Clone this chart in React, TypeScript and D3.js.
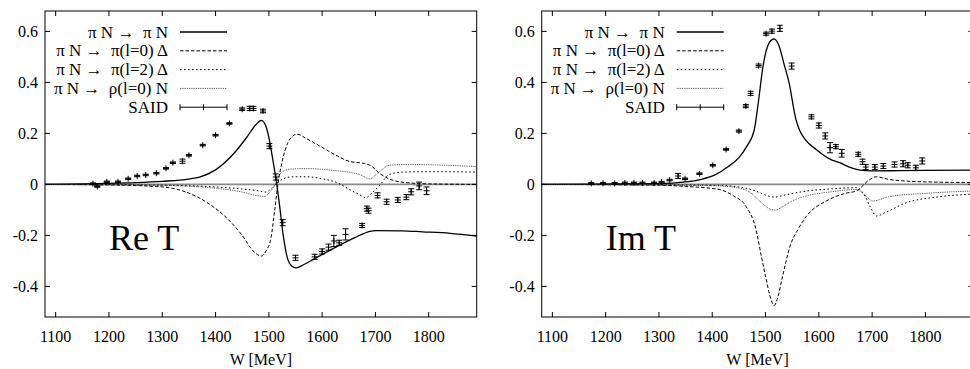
import React from 'react';
import * as d3 from 'd3';

// axes
const wTicks = [1100, 1200, 1300, 1400, 1500, 1600, 1700, 1800];
const yTicks = [-0.4, -0.2, 0, 0.2, 0.4, 0.6];
const yTickLabels = ['-0.4', '-0.2', '0', '0.2', '0.4', '0.6'];
const legendLabels = ['π N →  π N', 'π N →  π(l=0) Δ', 'π N →  π(l=2) Δ', 'π N →  ρ(l=0) N', 'SAID'];

// Re T curves  [W, value]
const rePiN = [
  [1080, 0], [1150, 0.002], [1200, 0.004], [1250, 0.007], [1300, 0.012], [1350, 0.021], [1370, 0.029],
  [1400, 0.057], [1433, 0.118], [1458, 0.183], [1476, 0.235], [1486, 0.251], [1495, 0.225], [1501, 0.175],
  [1508, 0.09], [1514, 0.013], [1520, -0.08], [1527, -0.2], [1535, -0.29], [1543, -0.32], [1551, -0.327],
  [1565, -0.315], [1586, -0.291], [1632, -0.239], [1660, -0.21], [1692, -0.183], [1700, -0.181],
  [1750, -0.182], [1788, -0.186], [1840, -0.192], [1890, -0.203],
];
const rePiDelta0 = [
  [1080, 0], [1200, -0.002], [1300, -0.01], [1339, -0.026], [1389, -0.078], [1420, -0.13], [1450, -0.2],
  [1470, -0.26], [1486, -0.281], [1495, -0.26], [1504, -0.21], [1511, -0.1], [1517, 0.0], [1525, 0.09],
  [1535, 0.16], [1545, 0.19], [1553, 0.197], [1570, 0.18], [1600, 0.145], [1630, 0.11], [1651, 0.09],
  [1679, 0.082], [1690, 0.075], [1710, 0.04], [1738, 0.013], [1776, 0.004], [1800, 0.002], [1890, 0.0],
];
const rePiDelta2 = [
  [1080, 0], [1300, -0.003], [1400, -0.01], [1450, -0.018], [1480, -0.025], [1495, -0.03], [1505, -0.015],
  [1515, 0.005], [1525, 0.02], [1545, 0.03], [1570, 0.03], [1600, 0.022], [1630, 0.005], [1651, -0.02],
  [1670, -0.04], [1682, -0.052], [1695, -0.03], [1707, -0.006], [1726, 0.039], [1750, 0.048],
  [1800, 0.05], [1890, 0.048],
];
const reRhoN = [
  [1080, 0], [1300, -0.004], [1400, -0.015], [1450, -0.03], [1480, -0.045], [1492, -0.047], [1502, -0.03],
  [1512, 0.0], [1523, 0.045], [1540, 0.06], [1570, 0.062], [1620, 0.055], [1670, 0.039], [1689, 0.022],
  [1705, 0.045], [1726, 0.075], [1760, 0.078], [1800, 0.077], [1890, 0.07],
];

// Im T curves
const imPiN = [
  [1080, 0], [1300, 0.003], [1350, 0.01], [1380, 0.02], [1407, 0.039], [1430, 0.07], [1450, 0.105],
  [1465, 0.15], [1479, 0.216], [1487, 0.33], [1495, 0.46], [1507, 0.556], [1516, 0.571], [1525, 0.545],
  [1535, 0.47], [1544, 0.4], [1557, 0.255], [1563, 0.216], [1575, 0.175], [1595, 0.137], [1620, 0.1],
  [1639, 0.085], [1660, 0.066], [1677, 0.056], [1700, 0.053], [1750, 0.054], [1800, 0.055], [1890, 0.056],
];
const imPiDelta0 = [
  [1080, 0], [1300, -0.003], [1350, -0.008], [1413, -0.02], [1440, -0.045], [1463, -0.085], [1482, -0.176],
  [1492, -0.28], [1501, -0.37], [1510, -0.45], [1516, -0.475], [1522, -0.45], [1532, -0.36], [1546, -0.242],
  [1561, -0.176], [1577, -0.124], [1614, -0.065], [1650, -0.035], [1670, -0.026], [1680, -0.01],
  [1690, 0.01], [1708, 0.03], [1730, 0.02], [1764, 0.013], [1800, 0.01], [1890, 0.007],
];
const imPiDelta2 = [
  [1080, 0], [1400, -0.003], [1450, -0.01], [1480, -0.025], [1500, -0.042], [1516, -0.05], [1540, -0.04],
  [1577, -0.026], [1620, -0.018], [1670, -0.013], [1685, -0.04], [1697, -0.09], [1708, -0.124],
  [1725, -0.11], [1764, -0.072], [1820, -0.05], [1890, -0.038],
];
const imRhoN = [
  [1080, 0], [1400, -0.005], [1451, -0.015], [1470, -0.03], [1489, -0.065], [1505, -0.093], [1518, -0.101],
  [1530, -0.09], [1550, -0.065], [1577, -0.045], [1620, -0.03], [1670, -0.02], [1688, -0.045],
  [1701, -0.065], [1732, -0.048], [1800, -0.035], [1890, -0.026],
];

// SAID points [W, value, error]
const reSaid = [
  [1170, 0.003, 0.003], [1178, -0.008, 0.003], [1196, 0.01, 0.003], [1217, 0.01, 0.003], [1236, 0.022, 0.003],
  [1253, 0.033, 0.003], [1269, 0.037, 0.003], [1289, 0.044, 0.003], [1307, 0.063, 0.003], [1320, 0.085, 0.003],
  [1338, 0.091, 0.008], [1350, 0.114, 0.003], [1376, 0.154, 0.003], [1400, 0.193, 0.003], [1426, 0.239, 0.003],
  [1450, 0.295, 0.005], [1464, 0.298, 0.008], [1471, 0.298, 0.008], [1489, 0.288, 0.007], [1501, 0.15, 0.01],
  [1513, 0.029, 0.012], [1526, -0.15, 0.012], [1550, -0.288, 0.01], [1586, -0.284, 0.01], [1600, -0.263, 0.01],
  [1612, -0.246, 0.012], [1622, -0.222, 0.022], [1632, -0.229, 0.01], [1644, -0.196, 0.022], [1675, -0.161, 0.008],
  [1684, -0.095, 0.01], [1687, -0.103, 0.01], [1704, -0.043, 0.01], [1721, -0.068, 0.01], [1742, -0.061, 0.01],
  [1758, -0.05, 0.01], [1767, -0.029, 0.012], [1782, -0.006, 0.015], [1796, -0.025, 0.015],
];
const imSaid = [
  [1173, 0.004, 0.003], [1195, 0.004, 0.003], [1217, 0.004, 0.003], [1236, 0.006, 0.003], [1253, 0.006, 0.003],
  [1269, 0.006, 0.003], [1291, 0.006, 0.003], [1305, 0.009, 0.003], [1320, 0.017, 0.003], [1336, 0.033, 0.01],
  [1349, 0.022, 0.003], [1376, 0.042, 0.003], [1401, 0.075, 0.003], [1426, 0.137, 0.003], [1450, 0.209, 0.004],
  [1463, 0.307, 0.006], [1472, 0.357, 0.008], [1487, 0.466, 0.006], [1501, 0.591, 0.006], [1512, 0.601, 0.008],
  [1527, 0.612, 0.012], [1549, 0.464, 0.012], [1586, 0.265, 0.008], [1600, 0.231, 0.01], [1612, 0.19, 0.012],
  [1621, 0.144, 0.02], [1632, 0.148, 0.008], [1643, 0.122, 0.015], [1674, 0.118, 0.008], [1682, 0.089, 0.01],
  [1688, 0.068, 0.01], [1705, 0.068, 0.01], [1721, 0.072, 0.01], [1742, 0.078, 0.01], [1758, 0.081, 0.012],
  [1767, 0.075, 0.01], [1782, 0.065, 0.01], [1794, 0.092, 0.012],
];

const FONT = "'Liberation Serif', Tinos, 'Times New Roman', Times, 'DejaVu Serif', serif";
const dashes = [null, '3.5,2', '1.6,2.4', '0.8,1'];

function Panel({ left, label, curves, said, id }) {
  const top = 11, w = 431.7, h = 306;
  const x = d3.scaleLinear().domain([1080, 1890]).range([left, left + w]);
  const y = d3.scaleLinear().domain([-0.52, 0.68]).range([top + h, top]);
  const line = d3.line().x(d => x(d[0])).y(d => y(d[1])).curve(d3.curveMonotoneX);
  const cap = 3;
  const txt = { fontFamily: FONT };

  return (
    <g>
      <clipPath id={id}>
        <rect x={left} y={top} width={w} height={h} />
      </clipPath>
      {/* zero axis */}
      <line x1={left} x2={left + w} y1={y(0)} y2={y(0)} stroke="#8a8a8a" strokeWidth={1.6} />
      <g clipPath={`url(#${id})`}>
        {curves.map((c, i) => (
          <path key={i} d={line(c)} fill="none" stroke={i === 3 ? '#333' : '#000'}
            strokeWidth={i === 0 ? 1.3 : 1} strokeDasharray={dashes[i] || undefined} />
        ))}
      </g>
      {/* SAID points */}
      <g stroke="#000" strokeWidth={1}>
        {said.map((d, i) => {
          const px = x(d[0]), py = y(d[1]), y1 = y(d[1] - d[2]), y2 = y(d[1] + d[2]);
          return (
            <g key={i}>
              <line x1={px} x2={px} y1={y1} y2={y2} />
              <line x1={px - cap} x2={px + cap} y1={y1} y2={y1} />
              <line x1={px - cap} x2={px + cap} y1={y2} y2={y2} />
              <line x1={px - cap} x2={px + cap} y1={py} y2={py} />
              <line x1={px} x2={px} y1={py - cap} y2={py + cap} />
            </g>
          );
        })}
      </g>
      {/* frame */}
      <rect x={left} y={top} width={w} height={h} fill="none" stroke="#000" strokeWidth={1} />
      {/* ticks */}
      <g stroke="#000" strokeWidth={1}>
        {wTicks.map(t => (
          <g key={t}>
            <line x1={x(t)} x2={x(t)} y1={top + h} y2={top + h - 5} />
            <line x1={x(t)} x2={x(t)} y1={top} y2={top + 5} />
          </g>
        ))}
        {yTicks.map(t => (
          <g key={t}>
            <line x1={left} x2={left + 5} y1={y(t)} y2={y(t)} />
            <line x1={left + w} x2={left + w - 5} y1={y(t)} y2={y(t)} />
          </g>
        ))}
      </g>
      <g fontSize={16} fill="#000">
        {wTicks.map(t => (
          <text key={t} x={x(t)} y={342} textAnchor="middle" style={txt}>{t}</text>
        ))}
        {yTicks.map((t, i) => (
          <text key={t} x={left - 7} y={y(t)} dy="0.35em" textAnchor="end" style={txt}>{yTickLabels[i]}</text>
        ))}
        <text x={left + w / 2} y={365} textAnchor="middle" style={txt}>W [MeV]</text>
        <text x={left + 64} y={250} fontSize={36} style={txt}>{label}</text>
      </g>
      {/* legend */}
      <g fontSize={17}>
        {legendLabels.map((s, i) => {
          const ly = 32 + i * 18.8;
          const lx1 = left + 135, lx2 = left + 182;
          return (
            <g key={i}>
              <text x={left + 123} y={ly} dy="0.33em" textAnchor="end" style={{ ...txt, whiteSpace: 'pre' }}>{s}</text>
              {i < 4 ? (
                <line x1={lx1} x2={lx2} y1={ly} y2={ly} stroke={i === 3 ? '#333' : '#000'}
                  strokeWidth={i === 0 ? 1.3 : 1} strokeDasharray={dashes[i] || undefined} />
              ) : (
                <g stroke="#000" strokeWidth={1}>
                  <line x1={lx1} x2={lx2} y1={ly} y2={ly} />
                  <line x1={lx1} x2={lx1} y1={ly - cap} y2={ly + cap} />
                  <line x1={lx2} x2={lx2} y1={ly - cap} y2={ly + cap} />
                  <line x1={(lx1 + lx2) / 2} x2={(lx1 + lx2) / 2} y1={ly - cap} y2={ly + cap} />
                </g>
              )}
            </g>
          );
        })}
      </g>
    </g>
  );
}

export default function App() {
  return (
    <svg width={970} height={369} style={{ position: 'absolute', left: 0, top: 0, background: '#fff', fontFamily: FONT }}>
      <rect width={970} height={369} fill="#fff" />
      <Panel id="clipRe" left={45} label="Re T" curves={[rePiN, rePiDelta0, rePiDelta2, reRhoN]} said={reSaid} />
      <Panel id="clipIm" left={541.7} label="Im T" curves={[imPiN, imPiDelta0, imPiDelta2, imRhoN]} said={imSaid} />
    </svg>
  );
}
